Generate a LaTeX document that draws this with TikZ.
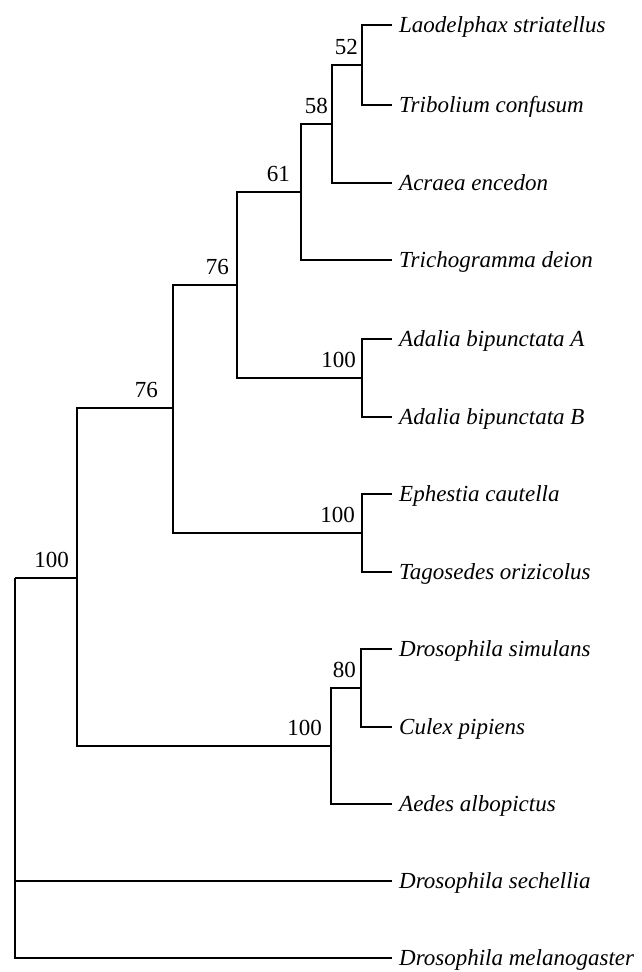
\documentclass[tikz,border=0pt]{standalone}
\usepackage{fontspec}
\setmainfont{Liberation Serif}
\begin{document}
\begin{tikzpicture}[x=1pt,y=-1pt,
  branch/.style={line width=2.1pt, line join=miter},
  leaf/.style={anchor=base west, inner sep=0pt, font=\fontsize{23}{27}\selectfont\itshape},
  support/.style={anchor=base east, inner sep=0pt, font=\fontsize{23}{27}\selectfont}]
\useasboundingbox (0,0) rectangle (641,972);
% leaf tips
\coordinate (t1) at (392,25);
\coordinate (t2) at (392,105);
\coordinate (t3) at (392,183);
\coordinate (t4) at (392,260);
\coordinate (t5) at (392,339);
\coordinate (t6) at (392,417);
\coordinate (t7) at (392,494);
\coordinate (t8) at (392,572);
\coordinate (t9) at (392,649);
\coordinate (t10) at (392,727);
\coordinate (t11) at (392,804);
\coordinate (t12) at (392,881);
\coordinate (t13) at (392,958);
% internal nodes
\coordinate (n52) at (362,65);
\coordinate (n58) at (332,124);
\coordinate (n61) at (301,192);
\coordinate (nA) at (362,378);
\coordinate (n76a) at (237,285);
\coordinate (nE) at (362,533);
\coordinate (n76b) at (173,408);
\coordinate (n80) at (361,688);
\coordinate (n100m) at (331,746);
\coordinate (n100) at (77,578);
\coordinate (root) at (15,578);
% leaf labels
\node[leaf] (l1) at ([xshift=7pt,yshift=-7pt]t1) {Laodelphax striatellus};
\node[leaf] (l2) at ([xshift=7pt,yshift=-7pt]t2) {Tribolium confusum};
\node[leaf] (l3) at ([xshift=7pt,yshift=-7pt]t3) {Acraea encedon};
\node[leaf] (l4) at ([xshift=7pt,yshift=-7pt]t4) {Trichogramma deion};
\node[leaf] (l5) at ([xshift=7pt,yshift=-7pt]t5) {Adalia bipunctata A};
\node[leaf] (l6) at ([xshift=7pt,yshift=-7pt]t6) {Adalia bipunctata B};
\node[leaf] (l7) at ([xshift=7pt,yshift=-7pt]t7) {Ephestia cautella};
\node[leaf] (l8) at ([xshift=7pt,yshift=-7pt]t8) {Tagosedes orizicolus};
\node[leaf] (l9) at ([xshift=7pt,yshift=-7pt]t9) {Drosophila simulans};
\node[leaf] (l10) at ([xshift=7pt,yshift=-7pt]t10) {Culex pipiens};
\node[leaf] (l11) at ([xshift=7pt,yshift=-7pt]t11) {Aedes albopictus};
\node[leaf] (l12) at ([xshift=7pt,yshift=-7pt]t12) {Drosophila sechellia};
\node[leaf] (l13) at ([xshift=7pt,yshift=-7pt]t13) {Drosophila melanogaster};
% support values
\node[support] (s52) at ([xshift=-4pt,yshift=10.5pt]n52) {52};
\node[support] (s58) at ([xshift=-4pt,yshift=10.5pt]n58) {58};
\node[support] (s61) at ([xshift=-11pt,yshift=10.5pt]n61) {61};
\node[support] (sA) at ([xshift=-6pt,yshift=10.5pt]nA) {100};
\node[support] (s76a) at ([xshift=-8pt,yshift=10.5pt]n76a) {76};
\node[support] (sE) at ([xshift=-7pt,yshift=10.5pt]nE) {100};
\node[support] (s76b) at ([xshift=-15pt,yshift=10.5pt]n76b) {76};
\node[support] (s80) at ([xshift=-5pt,yshift=10.5pt]n80) {80};
\node[support] (s100m) at ([xshift=-9pt,yshift=10.5pt]n100m) {100};
\node[support] (s100) at ([xshift=-8pt,yshift=10.5pt]n100) {100};
% branches
\draw[branch] (n52) |- (t1);
\draw[branch] (n52) |- (t2);
\draw[branch] (n58) |- (n52);
\draw[branch] (n58) |- (t3);
\draw[branch] (n61) |- (n58);
\draw[branch] (n61) |- (t4);
\draw[branch] (nA) |- (t5);
\draw[branch] (nA) |- (t6);
\draw[branch] (n76a) |- (n61);
\draw[branch] (n76a) |- (nA);
\draw[branch] (nE) |- (t7);
\draw[branch] (nE) |- (t8);
\draw[branch] (n76b) |- (n76a);
\draw[branch] (n76b) |- (nE);
\draw[branch] (n80) |- (t9);
\draw[branch] (n80) |- (t10);
\draw[branch] (n100m) |- (n80);
\draw[branch] (n100m) |- (t11);
\draw[branch] (n100) |- (n76b);
\draw[branch] (n100) |- (n100m);
\draw[branch] (root) -- (n100);
\draw[branch] (root) |- (t12);
\draw[branch] (root) |- (t13);
\end{tikzpicture}
\end{document}
